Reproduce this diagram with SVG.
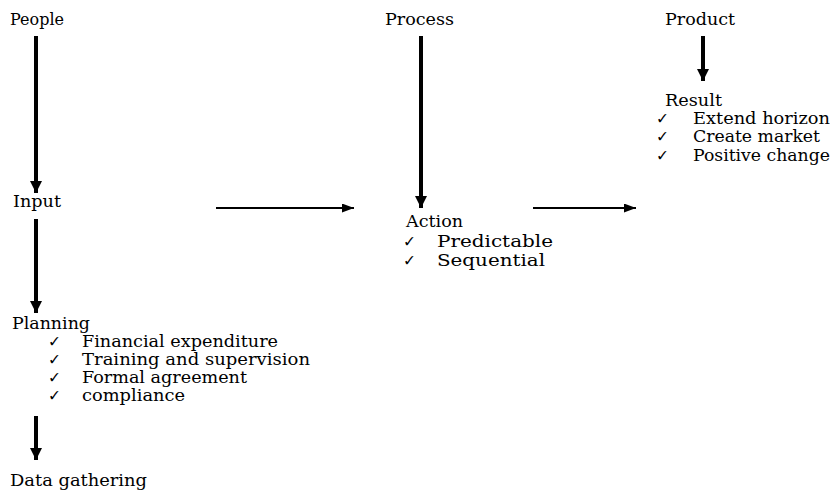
<svg xmlns="http://www.w3.org/2000/svg" width="830" height="491" viewBox="0 0 830 491">
<defs>
<style>
text{font-family:"DejaVu Serif","Liberation Serif",serif;font-size:16px;fill:#000}
.ck{font-family:"DejaVu Sans",sans-serif;font-size:15.5px}
.v{stroke:#000;stroke-width:4;fill:none}
.h{stroke:#000;stroke-width:2;fill:none}
</style>
<marker id="av" markerUnits="userSpaceOnUse" markerWidth="12" markerHeight="14" refX="12" refY="6" orient="auto" viewBox="0 0 12 12">
<path d="M0,0 L12,6 L0,12 Z" fill="#000"/>
</marker>
<marker id="ah" markerUnits="userSpaceOnUse" markerWidth="12" markerHeight="9" refX="12" refY="4.5" orient="auto" viewBox="0 0 12 9">
<path d="M0,0 L12,4.5 L0,9 Z" fill="#000"/>
</marker>
</defs>
<rect width="830" height="491" fill="#fff"/>
<g id="connectors">
<path class="v" d="M36,36 V193" marker-end="url(#av)"/>
<path class="v" d="M36,219 V313" marker-end="url(#av)"/>
<path class="v" d="M36,416 V460" marker-end="url(#av)"/>
<path class="v" d="M421,36 V208" marker-end="url(#av)"/>
<path class="v" d="M703,36 V81" marker-end="url(#av)"/>
<path class="h" d="M216,208 H354" marker-end="url(#ah)"/>
<path class="h" d="M533,208 H636" marker-end="url(#ah)"/>
</g>
<g id="people"><text x="10" y="25" textLength="54" lengthAdjust="spacingAndGlyphs">People</text></g>
<g id="input"><text x="13" y="207" textLength="48" lengthAdjust="spacingAndGlyphs">Input</text></g>
<g id="planning">
<text x="12" y="329" textLength="78" lengthAdjust="spacingAndGlyphs">Planning</text>
<text class="ck" x="48" y="347">✓</text><text x="82" y="347" textLength="196" lengthAdjust="spacingAndGlyphs">Financial expenditure</text>
<text class="ck" x="48" y="365">✓</text><text x="82" y="365" textLength="228" lengthAdjust="spacingAndGlyphs">Training and supervision</text>
<text class="ck" x="48" y="383">✓</text><text x="82" y="383" textLength="165" lengthAdjust="spacingAndGlyphs">Formal agreement</text>
<text class="ck" x="48" y="401">✓</text><text x="82" y="401" textLength="103" lengthAdjust="spacingAndGlyphs">compliance</text>
</g>
<g id="data-gathering"><text x="10" y="486" textLength="137" lengthAdjust="spacingAndGlyphs">Data gathering</text></g>
<g id="process"><text x="385" y="25" textLength="69" lengthAdjust="spacingAndGlyphs">Process</text></g>
<g id="action">
<text x="406" y="227" textLength="57" lengthAdjust="spacingAndGlyphs">Action</text>
<text class="ck" x="403" y="247">✓</text><text x="437" y="247" textLength="116" lengthAdjust="spacingAndGlyphs">Predictable</text>
<text class="ck" x="403" y="266">✓</text><text x="437" y="266" textLength="108" lengthAdjust="spacingAndGlyphs">Sequential</text>
</g>
<g id="product"><text x="665" y="25" textLength="70" lengthAdjust="spacingAndGlyphs">Product</text></g>
<g id="result">
<text x="665" y="106" textLength="57" lengthAdjust="spacingAndGlyphs">Result</text>
<text class="ck" x="656" y="124">✓</text><text x="693" y="124" textLength="137" lengthAdjust="spacingAndGlyphs">Extend horizon</text>
<text class="ck" x="656" y="142">✓</text><text x="693" y="142" textLength="127" lengthAdjust="spacingAndGlyphs">Create market</text>
<text class="ck" x="656" y="161">✓</text><text x="693" y="161" textLength="137" lengthAdjust="spacingAndGlyphs">Positive change</text>
</g>
</svg>
